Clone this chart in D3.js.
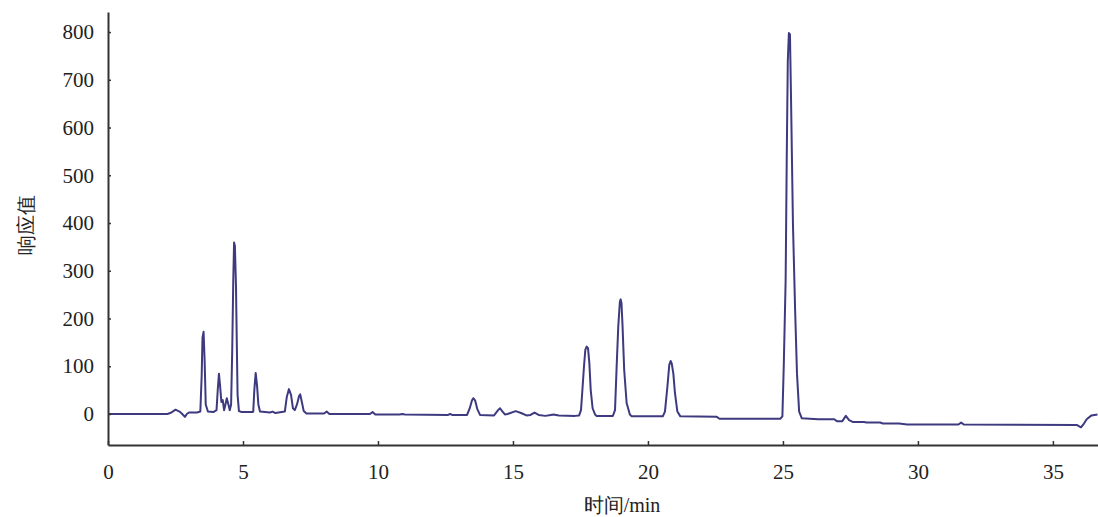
<!DOCTYPE html>
<html>
<head>
<meta charset="utf-8">
<script src="https://cdn.jsdelivr.net/npm/d3@7"></script>
<style>
  body { margin: 0; background: #fff; }
  svg text { font-family: "Liberation Serif", "Times New Roman", serif; fill: #222; }
</style>
</head>
<body>
<div id="chart"></div>
<script>
// retention time (min) and detector response
const time = [
  0, 2.2, 2.35, 2.5, 2.65, 2.75, 2.85, 2.92, 3.0, 3.3,
  3.42, 3.47, 3.5, 3.54, 3.58, 3.62, 3.7, 3.9, 4.02, 4.07,
  4.11, 4.15, 4.2, 4.25, 4.3, 4.35, 4.4, 4.46, 4.51, 4.56,
  4.6, 4.64, 4.67, 4.7, 4.74, 4.77, 4.8, 4.85, 4.95, 5.35,
  5.38, 5.42, 5.47, 5.52, 5.57, 5.63, 6.0, 6.1, 6.2, 6.55,
  6.62, 6.7, 6.78, 6.85, 6.92, 7.0, 7.08, 7.12, 7.18, 7.25,
  7.35, 8.0, 8.1, 8.2, 9.7, 9.8, 9.9, 10.8, 10.9, 11.0,
  12.6, 12.67, 12.75, 13.3, 13.4, 13.48, 13.53, 13.6, 13.68, 13.78,
  14.3, 14.45, 14.52, 14.6, 14.7, 14.8, 15.1, 15.3, 15.5, 15.65,
  15.8, 15.95, 16.2, 16.4, 16.5, 16.7, 17.3, 17.45, 17.52, 17.58,
  17.63, 17.68, 17.73, 17.78, 17.83, 17.88, 17.95, 18.04, 18.1, 18.7,
  18.78, 18.84, 18.9, 18.96, 18.99, 19.02, 19.06, 19.12, 19.21, 19.33,
  19.4, 20.55, 20.63, 20.72, 20.79, 20.84, 20.88, 20.94, 21.0, 21.09,
  21.2, 22.55, 22.65, 24.9, 24.98, 25.03, 25.1, 25.14, 25.18, 25.22,
  25.26, 25.3, 25.37, 25.45, 25.52, 25.6, 25.7, 26.0, 26.3, 26.9,
  27.0, 27.2, 27.33, 27.45, 27.6, 28.0, 28.1, 28.6, 28.7, 29.3,
  29.6, 31.5, 31.6, 31.7, 35.88, 36.04, 36.15, 36.25, 36.43, 36.65
];
const response = [
  0, 0, 3, 9, 5, 0, -6, 0, 3, 3,
  5, 80, 160, 172, 110, 20, 5, 4, 8, 55,
  84, 60, 25, 29, 8, 20, 33, 20, 8, 20,
  130, 280, 359, 352, 270, 150, 40, 6, 4, 4,
  5, 50, 86, 60, 20, 5, 3, 5, 2, 5,
  35, 52, 40, 12, 8, 20, 38, 41, 25, 6,
  1, 1, 5, 0, 0, 4, -1, -1, 0, -1,
  -2, 0, -2, -2, 12, 28, 33, 28, 10, -2,
  -3, 8, 12, 6, -1, 0, 6, 2, -3, -2,
  3, -2, -4, -2, -1, -3, -4, -3, 8, 57,
  99, 134, 141, 138, 106, 50, 12, -1, -4, -4,
  8, 99, 183, 235, 240, 232, 183, 92, 23, -1,
  -5, -5, 5, 57, 103, 111, 106, 85, 44, 5,
  -5, -6, -10, -10, -5, 100, 280, 530, 740, 798,
  795, 660, 400, 220, 85, 5, -9, -10, -11, -11,
  -15, -15, -4, -13, -17, -17, -18, -18, -20, -20,
  -22, -22, -18, -22, -23, -28, -20, -11, -3, -1
];
const xTicks = [0, 5, 10, 15, 20, 25, 30, 35];
const yTicks = [0, 100, 200, 300, 400, 500, 600, 700, 800];

const width = 1098, height = 517;
const margin = {left: 108, right: 0, top: 12, bottom: 72};

const svg = d3.select('#chart').append('svg')
  .attr('width', width)
  .attr('height', height);

const x = d3.scaleLinear().domain([0, 36.67]).range([margin.left, width - margin.right]);
const y = d3.scaleLinear().domain([-65, 842]).range([height - margin.bottom, margin.top]);

// trace
const points = time.map((t, i) => [t, response[i]]);
svg.append('path')
  .datum(points)
  .attr('fill', 'none')
  .attr('stroke', '#3d3a80')
  .attr('stroke-width', 2)
  .attr('stroke-linejoin', 'round')
  .attr('d', d3.line().x(d => x(d[0])).y(d => y(d[1])));

// axes, ticks pointing inward
let yAxis = svg.append('g')
  .attr('transform', `translate(${margin.left},0)`)
  .call(d3.axisLeft(y).tickValues(yTicks).tickSizeInner(-3).tickSizeOuter(0).tickPadding(14));

let xAxis = svg.append('g')
  .attr('transform', `translate(0,${height - margin.bottom})`)
  .call(d3.axisBottom(x).tickValues(xTicks).tickSizeInner(-4).tickSizeOuter(0).tickPadding(19));

[xAxis, yAxis].forEach(g => {
  g.select('.domain').attr('stroke', '#333').attr('stroke-width', 2);
  g.selectAll('.tick line').attr('stroke', '#333').attr('stroke-width', 1.5);
  g.selectAll('.tick text').attr('font-size', 21).attr('fill', '#222');
});

svg.append('text')
  .attr('transform', 'translate(33,225) rotate(-90)')
  .attr('text-anchor', 'middle')
  .attr('font-size', 20)
  .attr('font-family', '"Noto Sans CJK SC", serif')
  .text('响应值');

svg.append('text')
  .attr('x', 622)
  .attr('y', 512)
  .attr('text-anchor', 'middle')
  .attr('font-size', 20)
  .text('时间/min');
</script>
</body>
</html>
